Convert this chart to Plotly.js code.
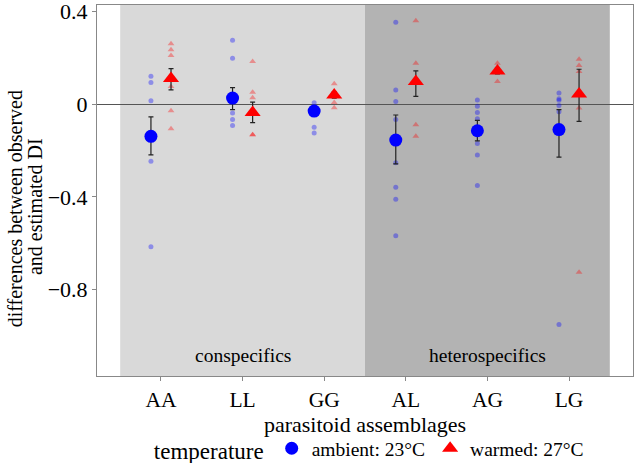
<!DOCTYPE html>
<html>
<head>
<meta charset="utf-8">
<script src="https://cdn.plot.ly/plotly-3.0.1.min.js"></script>
<style>html,body{margin:0;padding:0;background:#fff;}#chart{width:634px;height:463px;}</style>
</head>
<body>
<div id="chart"></div>
<script>
const categories = ['AA', 'LL', 'GG', 'AL', 'AG', 'LG'];
const seriesNames = ['ambient: 23°C', 'warmed: 27°C'];

const ambientMean = [-0.139, 0.026, -0.030, -0.155, -0.115, -0.110];
const ambientLow  = [-0.219, -0.024, -0.045, -0.258, -0.159, -0.229];
const ambientHigh = [-0.055, 0.071, -0.015, -0.047, -0.070, -0.024];

const warmedMean = [0.110, -0.036, 0.039, 0.097, 0.143, 0.043];
const warmedLow  = [0.061, -0.080, 0.025, 0.033, 0.130, -0.075];
const warmedHigh = [0.153, 0.008, 0.053, 0.143, 0.156, 0.150];

const ambientPoints = [
  [0.120, 0.093, 0.014, -0.246, -0.615],
  [0.275, 0.197, -0.039, -0.067, -0.092],
  [0.006, -0.100, -0.125],
  [0.353, 0.061, 0.011, -0.067, -0.253, -0.358, -0.410, -0.568],
  [0.018, -0.009, -0.036, -0.063, -0.170, -0.219, -0.351],
  [0.048, 0.023, 0.017, -0.006, -0.033, -0.950]
];
const warmedPoints = [
  [0.260, 0.234, 0.209, 0.076, -0.029, -0.106],
  [0.183, 0.051, 0.027, -0.132, -0.132],
  [0.088, 0.007, -0.016],
  [0.359, 0.176, -0.089, -0.139],
  [0.176, 0.097],
  [0.193, 0.166, 0.140, -0.017, -0.725]
];

const groupLabels = ['conspecifics', 'heterospecifics'];
const xTitle = 'parasitoid assemblages';
const yTitleLines = ['differences between observed', 'and estimated DI'];
const legendTitle = 'temperature';
const yTicks = [0.4, 0, -0.4, -0.8];
const yTickText = ['0.4', '0', '\u22120.4', '\u22120.8'];

const dodge = 0.123;
const font = '"Liberation Serif", "Times New Roman", serif';

function flatten(pointSets, offset) {
  const xs = [], ys = [];
  pointSets.forEach((vals, i) => vals.forEach(v => { xs.push(i + offset); ys.push(v); }));
  return {xs, ys};
}
const ap = flatten(ambientPoints, -dodge);
const wp = flatten(warmedPoints, dodge);
const idx = categories.map((c, i) => i);

const traces = [
  {x: ap.xs, y: ap.ys, type: 'scatter', mode: 'markers', showlegend: false, hoverinfo: 'skip',
   marker: {symbol: 'circle', size: 5, color: 'rgba(0,0,255,0.35)'}},
  {x: wp.xs, y: wp.ys, type: 'scatter', mode: 'markers', showlegend: false, hoverinfo: 'skip',
   marker: {symbol: 'triangle-up', size: 6, color: 'rgba(255,0,0,0.35)'}},
  {x: idx.map(i => i - dodge), y: ambientMean, type: 'scatter', mode: 'markers', name: seriesNames[0],
   error_y: {type: 'data', symmetric: false,
     array: ambientHigh.map((h, i) => h - ambientMean[i]),
     arrayminus: ambientLow.map((l, i) => ambientMean[i] - l),
     color: '#222', thickness: 1.2, width: 2.5},
   marker: {symbol: 'circle', size: 13, color: '#0000ff'}},
  {x: idx.map(i => i + dodge), y: warmedMean, type: 'scatter', mode: 'markers', name: seriesNames[1],
   error_y: {type: 'data', symmetric: false,
     array: warmedHigh.map((h, i) => h - warmedMean[i]),
     arrayminus: warmedLow.map((l, i) => warmedMean[i] - l),
     color: '#222', thickness: 1.2, width: 2.5},
   marker: {symbol: 'triangle-up', size: 14, color: '#ff0000'}}
];

const layout = {
  width: 634, height: 463,
  margin: {l: 97, r: 1, t: 5, b: 87, autoexpand: false},
  paper_bgcolor: '#ffffff', plot_bgcolor: '#ffffff',
  font: {family: font, size: 20, color: '#000'},
  showlegend: true,
  legend: {orientation: 'h', x: 0.51, xanchor: 'center', y: -0.197, yanchor: 'middle',
    title: {text: legendTitle, side: 'left', font: {family: font, size: 23}},
    font: {family: font, size: 19.5}, bgcolor: 'rgba(0,0,0,0)'},
  xaxis: {range: [-0.784, 5.784], tickmode: 'array', tickvals: idx, ticktext: categories,
    showgrid: false, zeroline: false, showline: true, mirror: true, linecolor: '#888', linewidth: 1,
    ticks: 'outside', ticklen: 4, tickcolor: '#888', tickfont: {family: font, size: 21.5},
    automargin: true,
    title: {text: xTitle, font: {family: font, size: 22}, standoff: 5}},
  yaxis: {range: [-1.172, 0.427], tickmode: 'array', tickvals: yTicks, ticktext: yTickText,
    ticklabeloverflow: 'allow',
    showgrid: false, zeroline: true, zerolinecolor: '#555', zerolinewidth: 1,
    showline: true, mirror: true, linecolor: '#888', linewidth: 1,
    ticks: 'outside', ticklen: 4, tickcolor: '#888', tickfont: {family: font, size: 22}},
  shapes: [
    {type: 'rect', xref: 'x', yref: 'paper', x0: -0.5, x1: 2.5, y0: 0, y1: 1, fillcolor: '#d9d9d9', line: {width: 0}, layer: 'below'},
    {type: 'rect', xref: 'x', yref: 'paper', x0: 2.5, x1: 5.5, y0: 0, y1: 1, fillcolor: '#b3b3b3', line: {width: 0}, layer: 'below'}
  ],
  annotations: [
    {x: 1, y: -1.085, xref: 'x', yref: 'y', text: groupLabels[0], showarrow: false, font: {family: font, size: 19.5}},
    {x: 4, y: -1.085, xref: 'x', yref: 'y', text: groupLabels[1], showarrow: false, font: {family: font, size: 19.5}},
    {x: -0.153, y: 0.452, xref: 'paper', yref: 'paper', xanchor: 'center', yanchor: 'middle',
     text: yTitleLines[0], textangle: -90, showarrow: false, font: {family: font, size: 20}},
    {x: -0.1157, y: 0.458, xref: 'paper', yref: 'paper', xanchor: 'center', yanchor: 'middle',
     text: yTitleLines[1], textangle: -90, showarrow: false, font: {family: font, size: 20}}
  ]
};

Plotly.newPlot('chart', traces, layout, {displayModeBar: false, staticPlot: true});
</script>
</body>
</html>
